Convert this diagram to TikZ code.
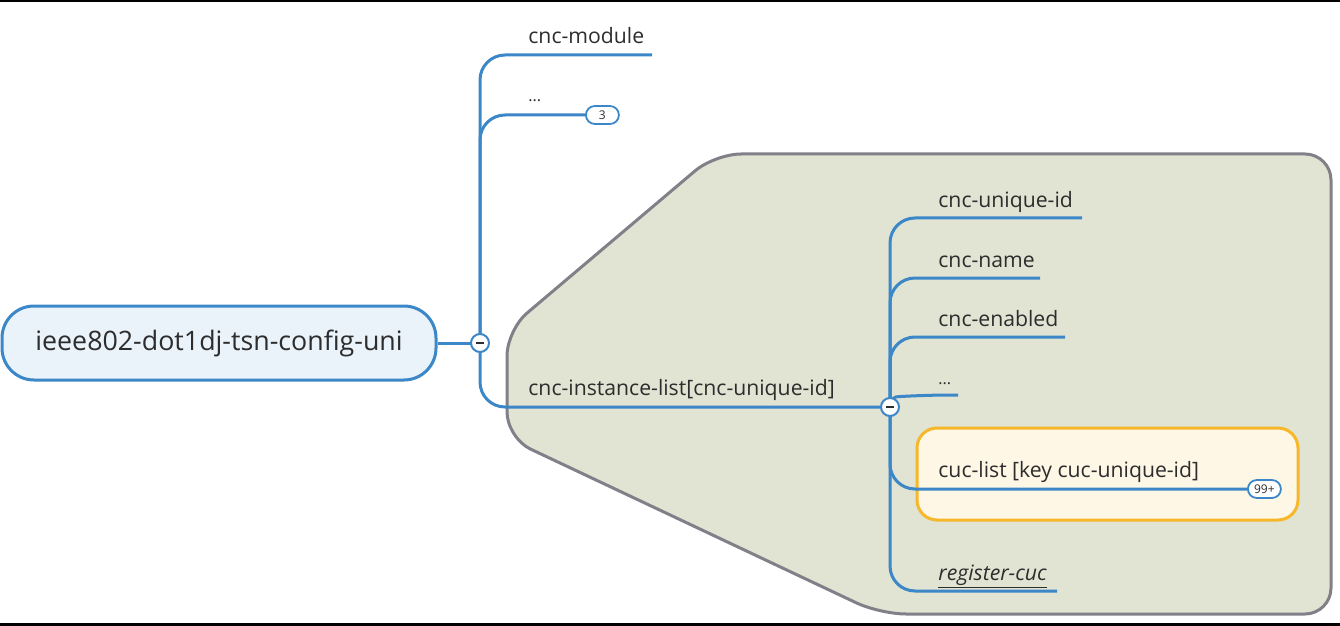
\documentclass[tikz,border=0pt]{standalone}
\usepackage{fontspec}
\setmainfont{Open Sans}
\definecolor{topicblue}{RGB}{59,135,200}
\definecolor{rootfill}{RGB}{234,242,250}
\definecolor{regionfill}{RGB}{225,227,211}
\definecolor{regionline}{RGB}{128,128,136}
\definecolor{hilitefill}{RGB}{254,247,230}
\definecolor{hiliteline}{RGB}{246,184,42}
\definecolor{textgray}{RGB}{45,45,45}
\begin{document}
\begin{tikzpicture}[x=0.5pt,y=-0.5pt,
  branch/.style={line width=1.5pt,draw=topicblue,rounded corners=12.5pt},
  label/.style={anchor=base west,inner sep=0pt,text=textgray,font=\fontsize{10.6}{12}\selectfont},
  knob/.style={circle,draw=topicblue,fill=white,line width=1pt,minimum size=9pt,inner sep=0pt,
    path picture={\draw[line width=1pt,textgray] ([xshift=-2.2pt]path picture bounding box.center) -- ([xshift=2.2pt]path picture bounding box.center);}},
  badge/.style={anchor=west,rounded corners=4.5pt,draw=topicblue,fill=white,line width=0.9pt,minimum width=16.5pt,minimum height=9pt,inner sep=0pt,text=textgray,font=\fontsize{6}{6}\selectfont}]
\useasboundingbox (0,0) rectangle (1340,626);
\fill (0,0) rectangle (1340,2.5);
\fill (0,622.5) rectangle (1340,626);
%%%%%%%%%%%%%%%%
\draw[fill=regionfill,draw=regionline,line width=1.5pt,rounded corners=13pt]
  (507,330) -- (715,154) -- (1331,154) -- (1331,614) -- (880,614) -- (507,438) -- cycle;
\draw[fill=hilitefill,draw=hiliteline,line width=1.5pt,rounded corners=10pt] (917,428) rectangle (1298,520);
%%%%%%%%%%%%%%%%
\node[draw=topicblue,fill=rootfill,line width=1.5pt,rounded corners=16pt,minimum width=217pt,minimum height=37pt,
  text=textgray,font=\fontsize{13.4}{15}\selectfont] (root) at (219,343) {ieee802-dot1dj-tsn-config-uni};
%%%%%%%%%%%%%%%%
\coordinate (c0) at (480,343);
\coordinate (c1) at (890,407);
\coordinate (cm) at (652,55);
\coordinate (b3w) at (585,115);
\coordinate (ci) at (880,407);
\coordinate (uid) at (1082,218);
\coordinate (nm) at (1040,278);
\coordinate (en) at (1065,337);
\coordinate (dt) at (958,395);
\coordinate (b99w) at (1247,489);
\coordinate (rc) at (1057,591);
%%%%%%%%%%%%%%%%
\draw[branch] (root) -- (c0);
\draw[branch] (c0) |- (cm);
\draw[branch] (c0) |- (b3w);
\draw[branch] (c0) |- (ci);
\draw[branch] (c1) |- (uid);
\draw[branch] (c1) |- (nm);
\draw[branch] (c1) |- (en);
\draw[branch] (c1) .. controls (893,397) .. (925,395) -- (dt);
\draw[branch] (c1) |- (b99w);
\draw[branch] (c1) |- (rc);
%%%%%%%%%%%%%%%%
\node[knob] (k0) at (c0) {};
\node[knob] (k1) at (c1) {};
\node[badge] (b3) at (b3w) {3};
\node[badge] (b99) at (b99w) {99+};
%%%%%%%%%%%%%%%%
\node[label] (lcm) at (528,44) {cnc-module};
\node[label] (ldt0) at (528,102) {\fontsize{8}{8}\selectfont...};
\node[label] (lci) at (528,395) {cnc-instance-list[cnc-unique-id]};
\node[label] (luid) at (938,207) {cnc-unique-id};
\node[label] (lnm) at (938,267) {cnc-name};
\node[label] (len) at (938,326) {cnc-enabled};
\node[label] (ldt1) at (938,384) {\fontsize{8}{8}\selectfont...};
\node[label] (lcuc) at (938,477) {cuc-list [key cuc-unique-id]};
\node[label] (lrc) at (938,580) {\itshape\underline{register-cuc}};
\end{tikzpicture}
\end{document}
